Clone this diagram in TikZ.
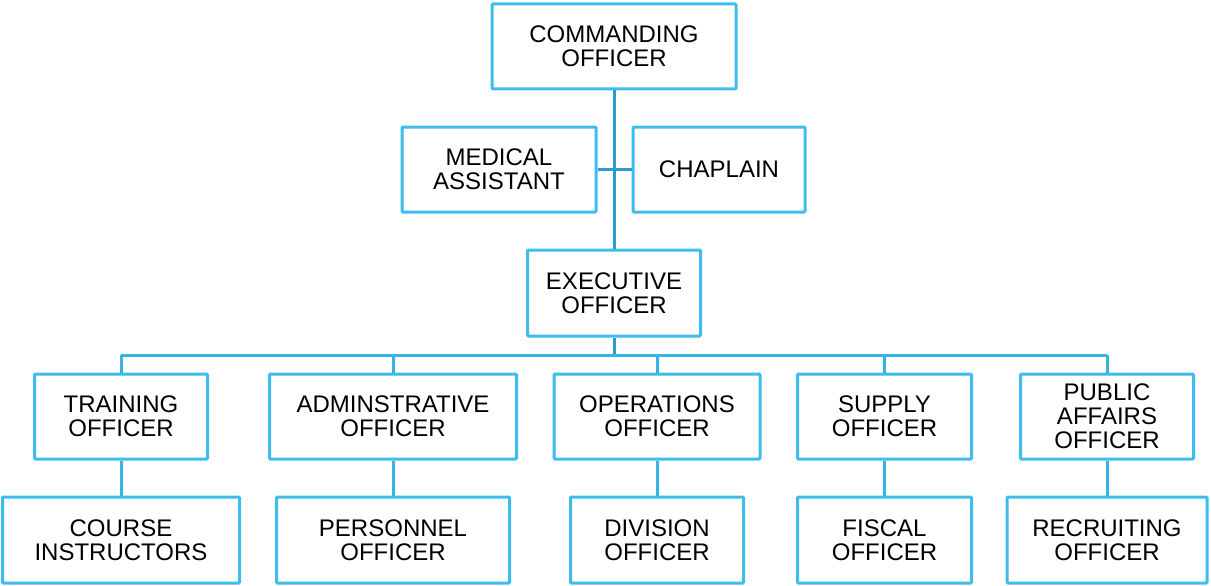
\documentclass[tikz,border=0pt]{standalone}
\usepackage{fontspec}
\setmainfont{Liberation Sans}
\definecolor{boxblue}{HTML}{3DBDED}
\definecolor{busblue}{HTML}{36B4E6}
\definecolor{trunkblue}{HTML}{2C9BCD}
\begin{document}
\begin{tikzpicture}[x=1pt,y=-1pt,
  orgbox/.style={draw=boxblue, line width=3pt, fill=white, rounded corners=1pt,
    inner sep=0pt, align=center, minimum height=85pt,
    font=\fontsize{24}{24}\selectfont},
  trunk/.style={draw=trunkblue, line width=3pt},
  link/.style={draw=busblue, line width=3pt}]
\useasboundingbox (0,0) rectangle (1211,586);
% nodes
\node[orgbox, minimum width=244pt] (co) at (614,46.5) {COMMANDING\\OFFICER};
\node[orgbox, minimum width=194pt] (med) at (499,169.5) {MEDICAL\\ASSISTANT};
\node[orgbox, minimum width=172pt] (chap) at (719,169.5) {CHAPLAIN};
\node[orgbox, minimum width=173pt, minimum height=86pt] (xo) at (614,293) {EXECUTIVE\\OFFICER};
\node[orgbox, minimum width=173pt] (train) at (121,416.5) {TRAINING\\OFFICER};
\node[orgbox, minimum width=247pt] (admin) at (393,416.5) {ADMINSTRATIVE\\OFFICER};
\node[orgbox, minimum width=206pt] (ops) at (657,416.5) {OPERATIONS\\OFFICER};
\node[orgbox, minimum width=174pt] (sup) at (884.5,416.5) {SUPPLY\\OFFICER};
\node[orgbox, minimum width=173pt] (pub) at (1107,416.5) {PUBLIC\\AFFAIRS\\OFFICER};
\node[orgbox, minimum width=237pt, minimum height=86pt] (course) at (121,540) {COURSE\\INSTRUCTORS};
\node[orgbox, minimum width=233pt, minimum height=86pt] (pers) at (393,540) {PERSONNEL\\OFFICER};
\node[orgbox, minimum width=173pt, minimum height=86pt] (div) at (657,540) {DIVISION\\OFFICER};
\node[orgbox, minimum width=174pt, minimum height=86pt] (fisc) at (884.5,540) {FISCAL\\OFFICER};
\node[orgbox, minimum width=200pt, minimum height=86pt] (recr) at (1107,540) {RECRUITING\\OFFICER};
% bus coordinates
\coordinate (busl) at (121,355);
\coordinate (busr) at (1107,355);
\coordinate (busx) at (614,355);
% connectors
\draw[trunk] (co.south) -- (xo.north);
\draw[trunk] (med.east) -- (chap.west);
\draw[trunk] (xo.south) -- (busx);
\draw[link] (busl) -- (busr);
\draw[link] (busl) -- (train.north);
\draw[link] (admin.north |- busl) -- (admin.north);
\draw[link] (ops.north |- busl) -- (ops.north);
\draw[link] (sup.north |- busl) -- (sup.north);
\draw[link] (busr) -- (pub.north);
\draw[link] (train.south) -- (course.north);
\draw[link] (admin.south) -- (pers.north);
\draw[link] (ops.south) -- (div.north);
\draw[link] (sup.south) -- (fisc.north);
\draw[link] (pub.south) -- (recr.north);
\end{tikzpicture}
\end{document}
